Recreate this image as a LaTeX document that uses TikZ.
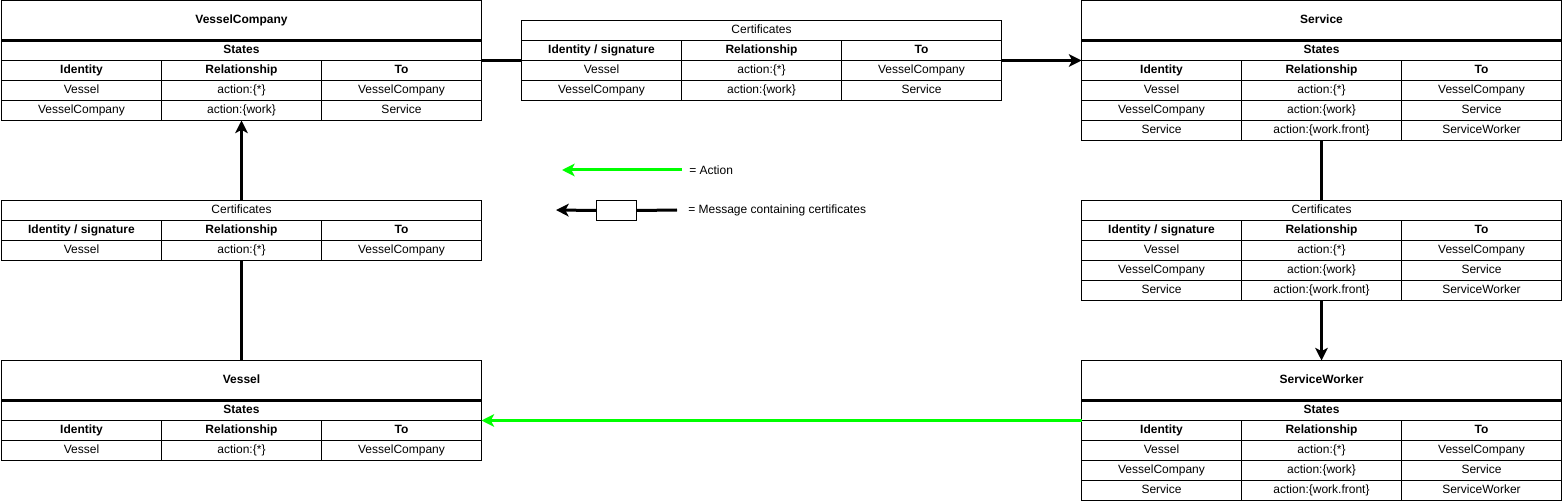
\documentclass[tikz,border=0pt]{standalone}
\usepackage{fontspec}
\setmainfont{Liberation Sans}
\usetikzlibrary{arrows.meta}
\definecolor{actgreen}{RGB}{0,255,0}
\tikzset{
  cell/.style={draw, line width=0.75pt, minimum width=120pt, minimum height=15pt,
    inner sep=0pt, outer sep=0pt, text height=6.6pt, text depth=1.9pt,
    anchor=north west, font=\fontsize{9}{10}\selectfont},
  hcell/.style={cell, font=\fontsize{9}{10}\selectfont\bfseries},
  widecell/.style={cell, minimum width=360pt},
  wideb/.style={widecell, font=\fontsize{9}{10}\selectfont\bfseries},
  titlecell/.style={wideb, minimum height=30pt},
  thickrule/.style={line width=2.4pt},
  conn/.style={line width=2.25pt},
  tip/.style={-{Stealth[length=9.5pt,width=9.5pt,inset=2.5pt]}},
  actarrow/.style={line width=2.25pt, actgreen, -{Stealth[length=9.5pt,width=9.5pt,inset=2.5pt]}},
  legtext/.style={anchor=west, inner sep=0pt, font=\fontsize{9}{10}\selectfont},
  legbox/.style={draw, fill=white, line width=0.75pt, minimum width=30pt, minimum height=15pt, inner sep=0pt}
}
\newcommand\hrow[4]{%
  \node[hcell] (#1a) at (#2,#3) {Identity};
  \node[hcell] (#1b) at (#2+160,#3) {Relationship};
  \node[hcell] (#1c) at (#2+320,#3) {To};}
\newcommand\chrow[3]{%
  \node[hcell] (#1a) at (#2,#3) {Identity / signature};
  \node[hcell] (#1b) at (#2+160,#3) {Relationship};
  \node[hcell] (#1c) at (#2+320,#3) {To};}
\newcommand\trow[6]{%
  \node[cell] (#1a) at (#2,#3) {#4};
  \node[cell] (#1b) at (#2+160,#3) {#5};
  \node[cell] (#1c) at (#2+320,#3) {#6};}
\begin{document}
\begin{tikzpicture}[x=0.75pt,y=-0.75pt]
\useasboundingbox (0,0) rectangle (1564,502);

% VesselCompany
\node[titlecell] (vcT) at (1.5,0.5) {VesselCompany};
\node[wideb] (vcS) at (1.5,40.5) {States};
\hrow{vcH}{1.5}{60.5}{}
\trow{vcRa}{1.5}{80.5}{Vessel}{action:\{*\}}{VesselCompany}
\trow{vcRb}{1.5}{100.5}{VesselCompany}{action:\{work\}}{Service}
\draw[thickrule] (vcT.south west) -- (vcT.south east);

% Certificates (middle)
\node[widecell] (cmT) at (521.5,20.5) {Certificates};
\chrow{cmH}{521.5}{40.5}
\trow{cmRa}{521.5}{60.5}{Vessel}{action:\{*\}}{VesselCompany}
\trow{cmRb}{521.5}{80.5}{VesselCompany}{action:\{work\}}{Service}

% Service
\node[titlecell] (svT) at (1081.5,0.5) {Service};
\node[wideb] (svS) at (1081.5,40.5) {States};
\hrow{svH}{1081.5}{60.5}{}
\trow{svRa}{1081.5}{80.5}{Vessel}{action:\{*\}}{VesselCompany}
\trow{svRb}{1081.5}{100.5}{VesselCompany}{action:\{work\}}{Service}
\trow{svRc}{1081.5}{120.5}{Service}{action:\{work.front\}}{ServiceWorker}
\draw[thickrule] (svT.south west) -- (svT.south east);

% Certificates (right)
\node[widecell] (crT) at (1081.5,200.5) {Certificates};
\chrow{crH}{1081.5}{220.5}
\trow{crRa}{1081.5}{240.5}{Vessel}{action:\{*\}}{VesselCompany}
\trow{crRb}{1081.5}{260.5}{VesselCompany}{action:\{work\}}{Service}
\trow{crRc}{1081.5}{280.5}{Service}{action:\{work.front\}}{ServiceWorker}

% ServiceWorker
\node[titlecell] (swT) at (1081.5,360.5) {ServiceWorker};
\node[wideb] (swS) at (1081.5,400.5) {States};
\hrow{swH}{1081.5}{420.5}{}
\trow{swRa}{1081.5}{440.5}{Vessel}{action:\{*\}}{VesselCompany}
\trow{swRb}{1081.5}{460.5}{VesselCompany}{action:\{work\}}{Service}
\trow{swRc}{1081.5}{480.5}{Service}{action:\{work.front\}}{ServiceWorker}
\draw[thickrule] (swT.south west) -- (swT.south east);

% Certificates (left)
\node[widecell] (clT) at (1.5,200.5) {Certificates};
\chrow{clH}{1.5}{220.5}
\trow{clRa}{1.5}{240.5}{Vessel}{action:\{*\}}{VesselCompany}

% Vessel
\node[titlecell] (vT) at (1.5,360.5) {Vessel};
\node[wideb] (vS) at (1.5,400.5) {States};
\hrow{vH}{1.5}{420.5}{}
\trow{vRa}{1.5}{440.5}{Vessel}{action:\{*\}}{VesselCompany}
\draw[thickrule] (vT.south west) -- (vT.south east);

% connectors
\draw[conn] (vcS.south east) -- (cmHa.south west);
\draw[conn,tip] (cmHc.south east) -- (svS.south west);
\draw[conn] (svRcb.south) -- (crT.north);
\draw[conn,tip] (crRcb.south) -- (swT.north);
\draw[actarrow] (swS.south west) -- (vS.south east);
\draw[conn] (vT.north) -- (clRab.south);
\draw[conn,tip] (clT.north) -- (vcRbb.south);

% legend
\coordinate (la1) at (682,170);
\coordinate (la2) at (562,170);
\draw[actarrow] (la1) -- (la2);
\node[legtext] (lt1) at (689,170) {= Action};
\coordinate (lb1) at (677,210);
\coordinate (lb2) at (556,210);
\node[legbox] (lbx) at (616.5,210.5) {};
\draw[conn] (lb1) -- (lbx.east);
\draw[conn,tip] (lbx.west) -- (lb2);
\node[legtext] (lt2) at (688,210) {= Message containing certificates};
\end{tikzpicture}
\end{document}
